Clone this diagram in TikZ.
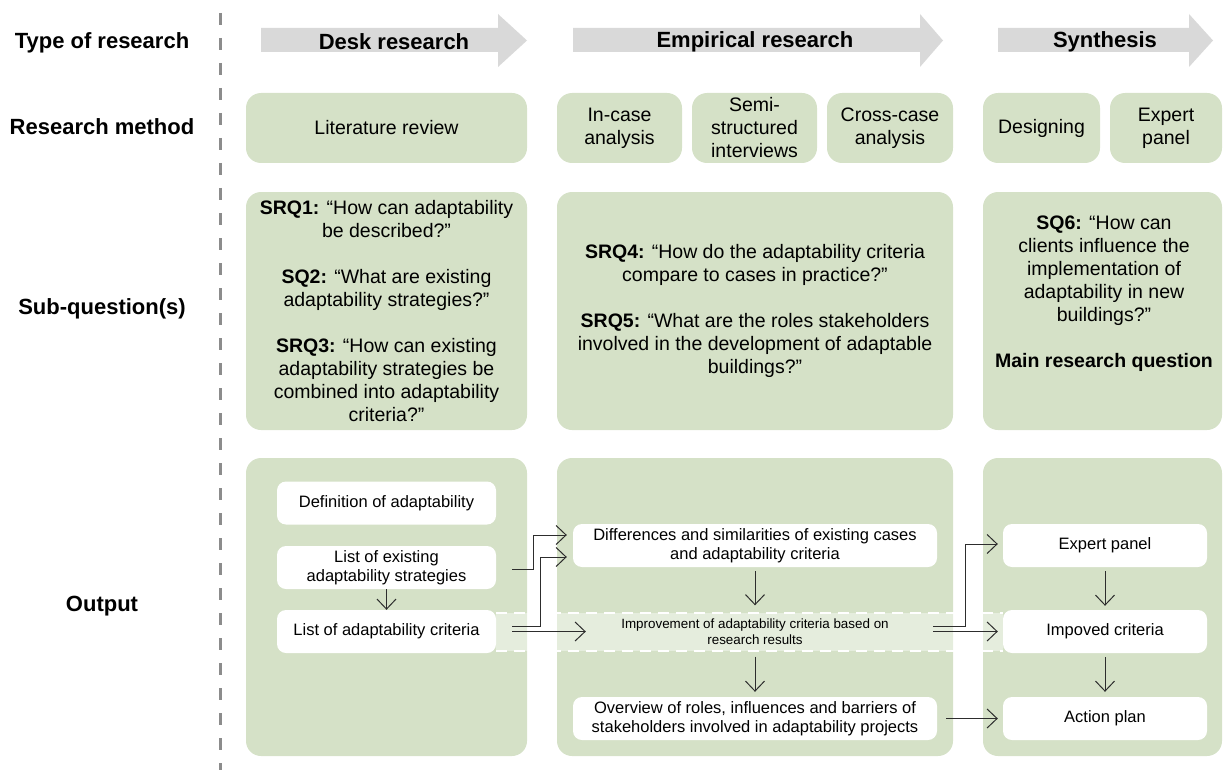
\documentclass[tikz,border=0pt]{standalone}
\usepackage{fontspec}
\setmainfont{Liberation Sans}
\usetikzlibrary{arrows.meta}
\definecolor{boxgreen}{RGB}{213,225,199}
\definecolor{arrgray}{RGB}{217,217,217}
\definecolor{dashgray}{RGB}{140,140,140}
\definecolor{linedark}{RGB}{45,45,45}
\newcommand\fbig{\fontsize{22}{26}\selectfont\bfseries}
\newcommand\fmid{\fontsize{19.5}{23}\selectfont}
\newcommand\fin{\fontsize{16.5}{19.5}\selectfont}
\newcommand\fsm{\fontsize{13.4}{15.5}\selectfont}
\begin{document}
\begin{tikzpicture}[x=1pt,y=-1pt,
  bigbox/.style={fill=boxgreen, rounded corners=15pt, inner sep=0pt, align=center, font=\fmid},
  whitebox/.style={fill=white, rounded corners=9pt, minimum height=43pt, inner sep=0pt, align=center, font=\fin},
  lbl/.style={font=\fbig, inner sep=0pt},
  txt/.style={align=center, font=\fmid, inner sep=0pt},
  conn/.style={draw=linedark, line width=1pt, -{Straight Barb[length=10pt,width=19pt]}}]
\useasboundingbox (0,0) rectangle (1225,770);

% left labels
\node[lbl] (ltype) at (102,43) {Type of research};
\node[lbl] (lmeth) at (102,127) {Research method};
\node[lbl] (lsub) at (102,309) {Sub-question(s)};
\node[lbl] (lout) at (102,606) {Output};

% separator
\draw[dashgray, line width=3pt, dash pattern=on 12pt off 13pt] (220,13) -- (220,770);

% type arrows
\fill[arrgray] (261,28) -- (498,28) -- (498,14) -- (527,40.5) -- (498,67) -- (498,52) -- (261,52) -- cycle;
\fill[arrgray] (573,28) -- (920,28) -- (920,14) -- (943,40.5) -- (920,67) -- (920,52) -- (573,52) -- cycle;
\fill[arrgray] (998,28) -- (1189,28) -- (1189,14) -- (1213,40.5) -- (1189,67) -- (1189,52) -- (998,52) -- cycle;
\node[lbl] (tdesk) at (394,42) {Desk research};
\node[lbl] (temp) at (755,42) {Empirical research};
\node[lbl] (tsyn) at (1105,42) {Synthesis};

% method row
\node[bigbox, minimum width=281pt, minimum height=70pt] (m1) at (386.5,128) {Literature review};
\node[bigbox, minimum width=125pt, minimum height=70pt] (m2) at (619.5,128) {In-case\\analysis};
\node[bigbox, minimum width=125pt, minimum height=70pt] (m3) at (754.5,128) {Semi-\\structured\\interviews};
\node[bigbox, minimum width=126pt, minimum height=70pt] (m4) at (890,128) {Cross-case\\analysis};
\node[bigbox, minimum width=117pt, minimum height=70pt] (m5) at (1041.5,128) {Designing};
\node[bigbox, minimum width=112pt, minimum height=70pt] (m6) at (1166,128) {Expert\\panel};

% sub-question row
\node[bigbox, minimum width=281pt, minimum height=238pt] (s1) at (386.5,311)
  {\textbf{SRQ1:} “How can adaptability\\be described?”\\[23pt]
   \textbf{SQ2:} “What are existing\\adaptability strategies?”\\[23pt]
   \textbf{SRQ3:} “How can existing\\adaptability strategies be\\combined into adaptability\\criteria?”};
\node[bigbox, minimum width=396pt, minimum height=238pt] (s2) at (755,311)
  {\textbf{SRQ4:} “How do the adaptability criteria\\compare to cases in practice?”\\[23pt]
   \textbf{SRQ5:} “What are the roles stakeholders\\involved in the development of adaptable\\buildings?”};
\node[bigbox, minimum width=239pt, minimum height=238pt] (s3) at (1102.5,311) {};
\node[txt] (q3) at (1104,294)
  {\textbf{SQ6:} “How can\\clients influence the\\implementation of\\adaptability in new\\buildings?”\\[23pt]
   \textbf{Main research question}};

% output row
\node[bigbox, minimum width=281pt, minimum height=298pt] (o1) at (386.5,607) {};
\node[bigbox, minimum width=396pt, minimum height=298pt] (o2) at (755,607) {};
\node[bigbox, minimum width=239pt, minimum height=298pt] (o3) at (1102.5,607) {};

% improvement band
\fill[white, opacity=0.4] (496,613) rectangle (1003,651);
\draw[white, line width=2pt, dash pattern=on 11pt off 7pt] (496,613) -- (1003,613);
\draw[white, line width=2pt, dash pattern=on 11pt off 7pt] (496,651) -- (1003,651);

% output boxes
\node[whitebox, minimum width=219pt] (defn) at (386.5,503) {Definition of adaptability};
\node[whitebox, minimum width=219pt] (lexist) at (386.5,567.5) {List of existing\\adaptability strategies};
\node[whitebox, minimum width=219pt] (lcrit) at (386.5,631.5) {List of adaptability criteria};
\node[whitebox, minimum width=364pt] (diff) at (755,545.5) {Differences and similarities of existing cases\\and adaptability criteria};
\node[inner sep=0pt, minimum width=364pt, minimum height=38pt, align=center, font=\fsm] (impr) at (755,631.5) {Improvement of adaptability criteria based on\\research results};
\node[whitebox, minimum width=364pt] (over) at (755,718.5) {Overview of roles, influences and barriers of\\stakeholders involved in adaptability projects};
\node[whitebox, minimum width=204pt] (expert) at (1105,545.5) {Expert panel};
\node[whitebox, minimum width=204pt] (impcrit) at (1105,631.5) {Impoved criteria};
\node[whitebox, minimum width=204pt] (action) at (1105,718.5) {Action plan};

% connectors
\draw[conn] (lexist.south) -- (lcrit.north);
\draw[conn] ([xshift=16pt,yshift=-2pt]lexist.east) -- ++(21,0) |- ([xshift=-6pt,yshift=10.5pt]diff.west);
\draw[conn] ([xshift=16pt,yshift=5.5pt]lcrit.east) -- ++(28,0) |- ([xshift=-6pt,yshift=-11.5pt]diff.west);
\draw[conn] ([xshift=16pt]lcrit.east) -- ([xshift=13pt]impr.west);
\draw[conn] ([yshift=-4pt]diff.south) -- ([yshift=7pt]impr.north);
\draw[conn] ([yshift=-6pt]impr.south) -- ([yshift=5pt]over.north);
\draw[conn] ([xshift=-4pt,yshift=5.5pt]impr.east) -- ++(32,0) |- ([xshift=-5pt,yshift=1.5pt]expert.west);
\draw[conn] ([xshift=-4pt]impr.east) -- ([xshift=-5pt]impcrit.west);
\draw[conn] ([xshift=9pt]over.east) -- ([xshift=-5pt]action.west);
\draw[conn] ([yshift=-4pt]expert.south) -- ([yshift=4pt]impcrit.north);
\draw[conn] ([yshift=-4pt]impcrit.south) -- ([yshift=5pt]action.north);
\end{tikzpicture}
\end{document}
